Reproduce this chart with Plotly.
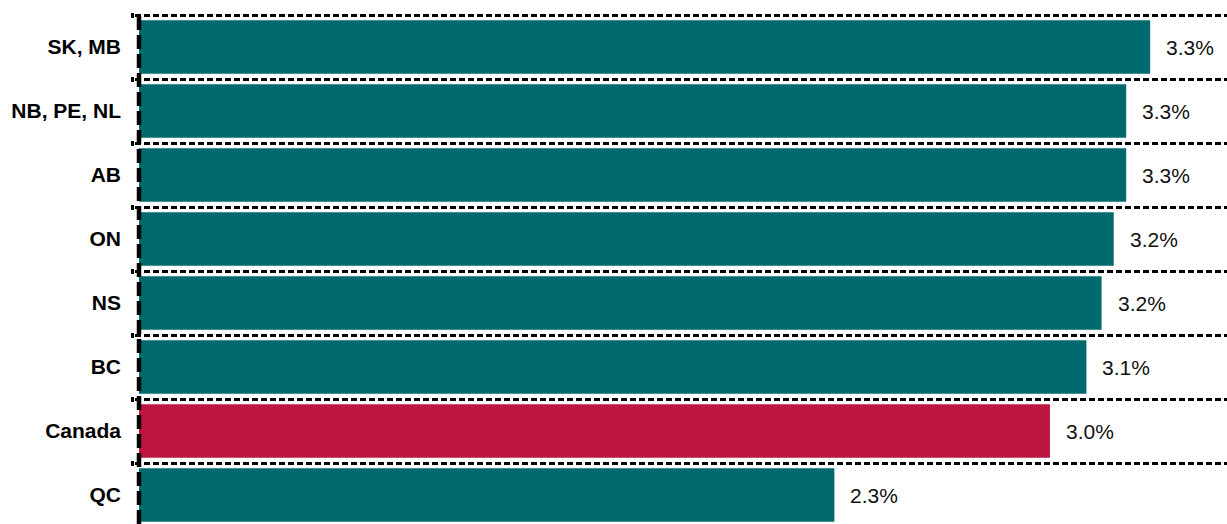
import plotly.graph_objects as go

# Regions listed top to bottom, with their rates (%)
regions = ["SK, MB", "NB, PE, NL", "AB", "ON", "NS", "BC", "Canada", "QC"]
rates = [3.33, 3.251, 3.251, 3.21, 3.17, 3.12, 3.00, 2.29]

TEAL = "#006A6E"
RED = "#BC1640"
bar_colors = [RED if r == "Canada" else TEAL for r in regions]

fig = go.Figure(
    go.Bar(
        x=rates,
        y=regions,
        orientation="h",
        marker=dict(color=bar_colors, line=dict(width=0)),
        hoverinfo="skip",
    )
)

# Value labels placed just past the end of each bar
for region, rate in zip(regions, rates):
    fig.add_annotation(
        x=rate, y=region, xref="x", yref="y",
        text=f"{rate:.1f}%",
        showarrow=False, xanchor="left", yanchor="middle", xshift=14,
        font=dict(family="Arial, Liberation Sans, sans-serif", size=21, color="#111111"),
    )

# Dashed baseline at zero
fig.add_shape(
    type="line", xref="x", yref="paper", x0=0, x1=0, y0=0, y1=1,
    line=dict(color="black", width=4.5, dash="14px,5px"), layer="above",
)

fig.update_layout(
    width=1227, height=524,
    margin=dict(l=135, r=0, t=14, b=0),
    paper_bgcolor="white", plot_bgcolor="white",
    bargap=0.167,
    showlegend=False,
    xaxis=dict(
        range=[-0.0132, 3.583],
        showgrid=False, zeroline=False, showline=False,
        showticklabels=False, ticks="",
    ),
    yaxis=dict(
        categoryorder="array", categoryarray=regions,
        range=[7.453, -0.516],
        tickson="boundaries",
        showgrid=True, gridcolor="black", gridwidth=2.8, griddash="6px,3px",
        ticks="outside", ticklen=3, tickwidth=5, tickcolor="black",
        ticklabelstandoff=13,
        showline=False, zeroline=False,
        tickfont=dict(family="Arial, Liberation Sans, sans-serif", size=21,
                      color="black", weight="bold"),
    ),
)

fig.write_html("out.html")
